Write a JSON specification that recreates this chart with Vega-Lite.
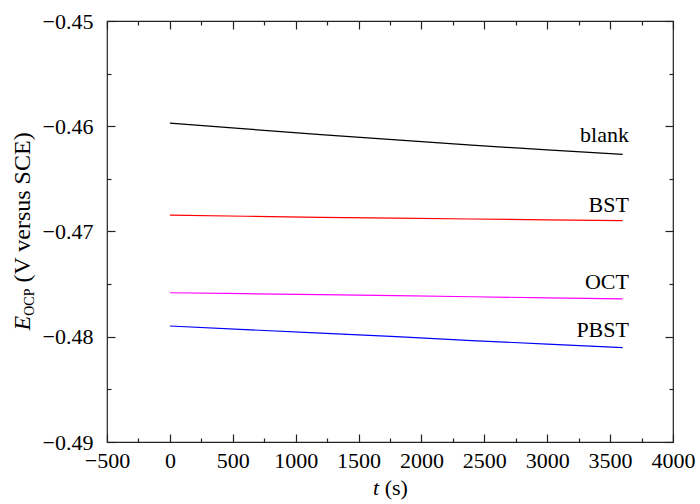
{
  "$schema": "https://vega.github.io/schema/vega-lite/v6.json",
  "width": 566,
  "height": 421,
  "autosize": {"type": "none"},
  "padding": {"left": 107, "top": 21, "right": 27, "bottom": 62},
  "config": {
    "view": {"stroke": "#222222", "strokeWidth": 1.2},
    "font": "Liberation Serif",
    "axis": {
      "domain": false,
      "grid": false,
      "labelFont": "Liberation Serif",
      "titleFont": "Liberation Serif",
      "labelColor": "#000000",
      "titleColor": "#000000",
      "labelFontSize": 22,
      "titleFontSize": 22,
      "titleFontWeight": "normal"
    }
  },
  "datasets": {
    "series": [
      {"series": "blank", "t": 0, "E": -0.4597},
      {"series": "blank", "t": 600, "E": -0.46025},
      {"series": "blank", "t": 1200, "E": -0.4608},
      {"series": "blank", "t": 1800, "E": -0.4613},
      {"series": "blank", "t": 2400, "E": -0.4618},
      {"series": "blank", "t": 3000, "E": -0.46225},
      {"series": "blank", "t": 3600, "E": -0.46268},
      {"series": "BST", "t": 0, "E": -0.46845},
      {"series": "BST", "t": 600, "E": -0.46855},
      {"series": "BST", "t": 1200, "E": -0.46865},
      {"series": "BST", "t": 1800, "E": -0.46873},
      {"series": "BST", "t": 2400, "E": -0.46881},
      {"series": "BST", "t": 3000, "E": -0.46889},
      {"series": "BST", "t": 3600, "E": -0.46897},
      {"series": "OCT", "t": 0, "E": -0.47582},
      {"series": "OCT", "t": 600, "E": -0.47591},
      {"series": "OCT", "t": 1200, "E": -0.476},
      {"series": "OCT", "t": 1800, "E": -0.4761},
      {"series": "OCT", "t": 2400, "E": -0.4762},
      {"series": "OCT", "t": 3000, "E": -0.4763},
      {"series": "OCT", "t": 3600, "E": -0.4764},
      {"series": "PBST", "t": 0, "E": -0.47898},
      {"series": "PBST", "t": 600, "E": -0.47932},
      {"series": "PBST", "t": 1200, "E": -0.47966},
      {"series": "PBST", "t": 1800, "E": -0.47999},
      {"series": "PBST", "t": 2400, "E": -0.48036},
      {"series": "PBST", "t": 3000, "E": -0.4807},
      {"series": "PBST", "t": 3600, "E": -0.48104}
    ],
    "labels": [
      {"label": "blank", "x": 3650, "y": -0.46147},
      {"label": "BST", "x": 3650, "y": -0.46812},
      {"label": "OCT", "x": 3650, "y": -0.47546},
      {"label": "PBST", "x": 3650, "y": -0.48}
    ]
  },
  "resolve": {"axis": {"x": "independent", "y": "independent"}},
  "layer": [
    {
      "data": {"name": "series"},
      "mark": {"type": "line", "strokeWidth": 1.2},
      "encoding": {
        "x": {
          "field": "t", "type": "quantitative",
          "scale": {"domain": [-500, 4000], "nice": false, "zero": false},
          "axis": {
            "orient": "bottom",
            "values": [-500, 0, 500, 1000, 1500, 2000, 2500, 3000, 3500, 4000],
            "format": "d", "ticks": false, "labelPadding": 8, "labelFlush": false,
            "title": "t", "titleFontStyle": "italic", "titleX": 265.6, "titleY": 52,
            "titleAlign": "left", "titleBaseline": "alphabetic"
          }
        },
        "y": {
          "field": "E", "type": "quantitative",
          "scale": {"domain": [-0.49, -0.45], "nice": false, "zero": false},
          "axis": {
            "orient": "left",
            "values": [-0.49, -0.48, -0.47, -0.46, -0.45],
            "format": ".2f", "ticks": false, "labelPadding": 14, "labelFlush": false,
            "title": "E", "titleFontStyle": "italic", "titleFontSize": 24, "titleX": -78, "titleY": 309,
            "titleAngle": 270, "titleAlign": "left", "titleBaseline": "alphabetic"
          }
        },
        "color": {
          "field": "series", "type": "nominal",
          "scale": {"domain": ["blank", "BST", "OCT", "PBST"], "range": ["#000000", "#ff0000", "#ff00ff", "#0000ff"]},
          "legend": null
        }
      }
    },
    {
      "data": {"name": "labels"},
      "mark": {"type": "text", "align": "right", "baseline": "alphabetic", "fontSize": 22, "font": "Liberation Serif", "color": "#000000"},
      "encoding": {
        "x": {
          "field": "x", "type": "quantitative",
          "axis": {"orient": "bottom", "values": [-500, 0, 500, 1000, 1500, 2000, 2500, 3000, 3500, 4000], "labels": false, "ticks": true, "tickSize": 8, "offset": -8, "tickColor": "#222222", "tickWidth": 1.2, "zindex": 1, "title": null}
        },
        "y": {
          "field": "y", "type": "quantitative",
          "axis": {"orient": "left", "values": [-0.49, -0.48, -0.47, -0.46, -0.45], "labels": false, "ticks": true, "tickSize": 8, "offset": -8, "tickColor": "#222222", "tickWidth": 1.2, "zindex": 1, "title": null}
        },
        "text": {"field": "label", "type": "nominal"}
      }
    },
    {
      "data": {"name": "series"},
      "mark": {"type": "point", "opacity": 0},
      "encoding": {
        "x": {
          "field": "t", "type": "quantitative",
          "axis": {"orient": "bottom", "values": [-250, 250, 750, 1250, 1750, 2250, 2750, 3250, 3750], "labels": false, "ticks": true, "tickSize": 4, "offset": -4, "tickColor": "#222222", "tickWidth": 1.2, "zindex": 1, "title": null}
        },
        "y": {
          "field": "E", "type": "quantitative",
          "axis": {"orient": "left", "values": [-0.485, -0.475, -0.465, -0.455], "labels": false, "ticks": true, "tickSize": 4, "offset": -4, "tickColor": "#222222", "tickWidth": 1.2, "zindex": 1, "title": null}
        }
      }
    },
    {
      "data": {"name": "series"},
      "mark": {"type": "point", "opacity": 0},
      "encoding": {
        "x": {
          "field": "t", "type": "quantitative",
          "axis": {"orient": "bottom", "labels": false, "ticks": false, "title": "(s)", "titleX": 277.2, "titleY": 52, "titleAlign": "left", "titleBaseline": "alphabetic"}
        },
        "y": {
          "field": "E", "type": "quantitative",
          "axis": {"orient": "left", "labels": false, "ticks": false, "title": "OCP", "titleFontSize": 14, "titleX": -74, "titleY": 294.3, "titleAngle": 270, "titleAlign": "left", "titleBaseline": "alphabetic"}
        }
      }
    },
    {
      "data": {"name": "series"},
      "mark": {"type": "point", "opacity": 0},
      "encoding": {
        "x": {
          "field": "t", "type": "quantitative",
          "axis": {"orient": "top", "values": [-500, 0, 500, 1000, 1500, 2000, 2500, 3000, 3500, 4000], "labels": false, "ticks": true, "tickSize": 8, "offset": -8, "tickColor": "#222222", "tickWidth": 1.2, "zindex": 1, "title": null}
        },
        "y": {
          "field": "E", "type": "quantitative",
          "axis": {"orient": "left", "labels": false, "ticks": false, "title": "(V versus SCE)", "titleFontSize": 24, "titleX": -78, "titleY": 261.1, "titleAngle": 270, "titleAlign": "left", "titleBaseline": "alphabetic"}
        }
      }
    },
    {
      "data": {"name": "series"},
      "mark": {"type": "point", "opacity": 0},
      "encoding": {
        "x": {
          "field": "t", "type": "quantitative",
          "axis": {"orient": "top", "values": [-250, 250, 750, 1250, 1750, 2250, 2750, 3250, 3750], "labels": false, "ticks": true, "tickSize": 4, "offset": -4, "tickColor": "#222222", "tickWidth": 1.2, "zindex": 1, "title": null}
        },
        "y": {
          "field": "E", "type": "quantitative",
          "axis": {"orient": "right", "values": [-0.49, -0.48, -0.47, -0.46, -0.45], "labels": false, "ticks": true, "tickSize": 8, "offset": -8, "tickColor": "#222222", "tickWidth": 1.2, "zindex": 1, "title": null}
        }
      }
    },
    {
      "data": {"name": "series"},
      "mark": {"type": "point", "opacity": 0},
      "encoding": {
        "x": {"field": "t", "type": "quantitative", "axis": null},
        "y": {
          "field": "E", "type": "quantitative",
          "axis": {"orient": "right", "values": [-0.485, -0.475, -0.465, -0.455], "labels": false, "ticks": true, "tickSize": 4, "offset": -4, "tickColor": "#222222", "tickWidth": 1.2, "zindex": 1, "title": null}
        }
      }
    }
  ]
}
